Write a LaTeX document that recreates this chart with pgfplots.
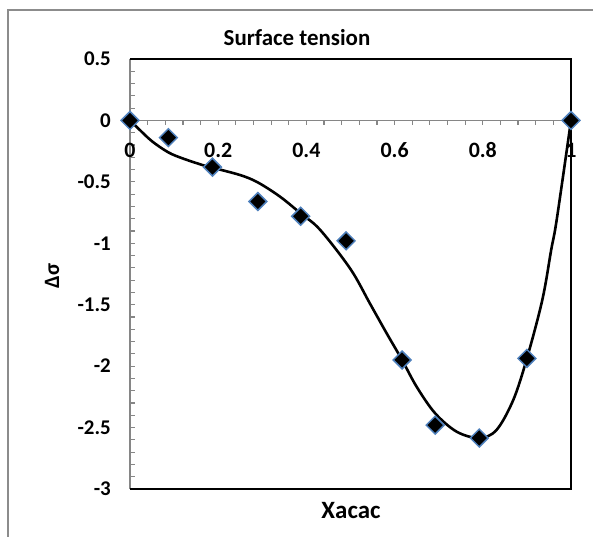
\documentclass[border=0pt]{standalone}
\usepackage{fontspec}
\setmainfont{Carlito}
\usepackage{pgfplots}
\pgfplotsset{compat=1.18}
\definecolor{mkblue}{HTML}{4F81BD}
\definecolor{axgray}{HTML}{868686}
\definecolor{framegray}{HTML}{8C8C8C}

\begin{document}
\begin{tikzpicture}[x=1bp,y=1bp]
\useasboundingbox (-130,-48) rectangle (464,489);
\draw[framegray, line width=1.3bp] (-122,-48) -- (-122,479) -- (463,479);
\begin{axis}[
    at={(0,0)}, anchor=south west,
    scale only axis,
    width=441bp, height=430bp,
    xmin=0, xmax=1, ymin=-3, ymax=0.5,
    axis x line*=middle, axis y line*=left,
    hide obscured x ticks=false, hide obscured y ticks=false,
    x axis line style={axgray, line width=1.3bp},
    y axis line style={axgray, line width=2.2bp},
    xtick={0,0.2,0.4,0.6,0.8,1},
    xticklabels={0,0.2,0.4,0.6,0.8,1},
    ytick={-3,-2.5,-2,-1.5,-1,-0.5,0,0.5},
    yticklabels={-3,-2.5,-2,-1.5,-1,-0.5,0,0.5},
    minor x tick num=4, minor y tick num=4,
    xtick align=outside, ytick align=inside,
    major tick length=4.5bp, minor tick length=4.5bp,
    tick style={axgray, line width=1.2bp},
    xticklabel style={font=\bfseries\fontsize{22}{24}\selectfont, anchor=center, inner sep=0pt, yshift=-25bp},
    yticklabel style={font=\bfseries\fontsize{21}{24}\selectfont, anchor=east, inner sep=0pt, xshift=-19bp},
    clip=false,
]
% plot area border (top, right, bottom)
\draw[black, line width=1.8bp] (rel axis cs:0,1) -- (rel axis cs:1,1) -- (rel axis cs:1,0) -- (rel axis cs:0,0);
% fitted curve
\addplot[black, line width=2.6bp, smooth, tension=0.55] coordinates {
    (0,0) (0.02,-0.07) (0.05,-0.17) (0.087,-0.26) (0.12,-0.31) (0.166,-0.365)
    (0.187,-0.385) (0.25,-0.445) (0.29,-0.505) (0.34,-0.62) (0.387,-0.757)
    (0.431,-0.89) (0.5,-1.21) (0.544,-1.49) (0.582,-1.733) (0.617,-1.95)
    (0.65,-2.168) (0.692,-2.384) (0.741,-2.534) (0.792,-2.585) (0.831,-2.52)
    (0.869,-2.276) (0.9,-1.937) (0.935,-1.46) (0.955,-1.055) (0.9675,-0.81) (1,0)
};
% measured points
\addplot[only marks, mark=square*, mark size=6.3bp,
    mark options={rotate=45, fill=black, draw=mkblue, line width=1.5bp}] coordinates {
    (0,0) (0.087,-0.14) (0.187,-0.38) (0.29,-0.66) (0.387,-0.78) (0.49,-0.98)
    (0.617,-1.95) (0.692,-2.48) (0.792,-2.585) (0.9,-1.937) (1,0)
};
\end{axis}
\node[font=\bfseries\fontsize{23}{26}\selectfont, anchor=base] at (167,443) {Surface tension};
\node[font=\bfseries\fontsize{25}{28}\selectfont, anchor=base] at (221,-30) {Xacac};
\node[font=\bfseries\fontsize{22}{26}\selectfont, rotate=90] at (-78,213) {Δσ};
\end{tikzpicture}
\end{document}
